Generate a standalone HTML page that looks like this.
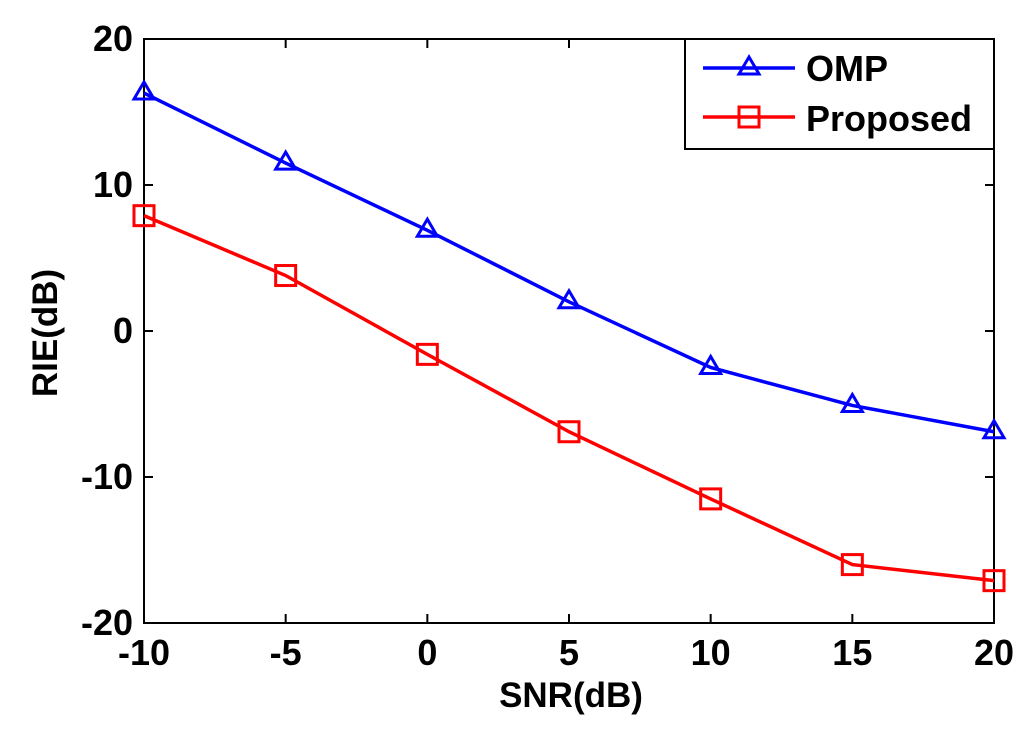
<!DOCTYPE html>
<html><head><meta charset="utf-8"><style>
body{margin:0;background:#fff;}
svg text{font-family:"Liberation Sans",Arial,sans-serif;font-weight:bold;}
</style></head><body>
<svg width="1024" height="726" viewBox="0 0 1024 726">
<rect x="144" y="39" width="850" height="584" fill="#fff" stroke="#000" stroke-width="2"/>
<g id="ticks"></g>
<g id="series"></g>
<text x="571" y="707" font-size="35" text-anchor="middle">SNR(dB)</text>
<text transform="translate(57,333) rotate(-90)" font-size="35" text-anchor="middle">RIE(dB)</text>
<g>
<rect x="685" y="39" width="309" height="110" fill="#fff" stroke="#000" stroke-width="2"/>
<g>
<line x1="703" y1="68" x2="795" y2="68" stroke="#0000ff" stroke-width="3.5"/>
<polygon points="749,57 739,74 759,74" fill="none" stroke="#0000ff" stroke-width="3"/>
<text x="806" y="81" font-size="36">OMP</text></g>
<g>
<line x1="703" y1="117" x2="795" y2="117" stroke="#ff0000" stroke-width="3.5"/>
<rect x="739" y="107" width="20" height="20" fill="none" stroke="#ff0000" stroke-width="3"/>
<text x="806" y="131" font-size="36">Proposed</text></g>
</g>
</svg>
<script>
const snr=[-10,-5,0,5,10,15,20];
const ompValues=[16.3,11.5,6.9,2.0,-2.5,-5.1,-6.9];
const proposedValues=[7.9,3.8,-1.6,-6.9,-11.5,-16.0,-17.1];
const xTicks=[-10,-5,0,5,10,15,20];
const yTicks=[-20,-10,0,10,20];
const NS='http://www.w3.org/2000/svg';
const X=v=>144+(v+10)/30*850;
const Y=v=>623-(v+20)/40*584;
function mk(t,a,p){const e=document.createElementNS(NS,t);for(const k in a)e.setAttribute(k,a[k]);p.appendChild(e);return e;}
const tg=document.getElementById('ticks');
xTicks.forEach(v=>{
 mk('line',{x1:X(v),x2:X(v),y1:623,y2:614,stroke:'#000','stroke-width':2},tg);
 mk('line',{x1:X(v),x2:X(v),y1:39,y2:48,stroke:'#000','stroke-width':2},tg);
 const t=mk('text',{x:X(v),y:665,'font-size':36,'text-anchor':'middle'},tg);t.textContent=v;
 
 
});
yTicks.forEach(v=>{
 mk('line',{x1:144,x2:153,y1:Y(v),y2:Y(v),stroke:'#000','stroke-width':2},tg);
 mk('line',{x1:994,x2:985,y1:Y(v),y2:Y(v),stroke:'#000','stroke-width':2},tg);
 const t=mk('text',{x:133,y:Y(v)+12,'font-size':36,'text-anchor':'end'},tg);t.textContent=v;
 
 
});
const sg=document.getElementById('series');
function series(vals,color,name,marker){
 const g=mk('g',{},sg);
 
 
 mk('polyline',{points:vals.map((v,i)=>X(snr[i])+','+Y(v)).join(' '),fill:'none',stroke:color,'stroke-width':3.5},g);
 vals.forEach((v,i)=>{
  const x=X(snr[i]),y=Y(v);let m;
  if(marker==='tri')m=mk('polygon',{points:`${x},${y-11} ${x-10},${y+6} ${x+10},${y+6}`,fill:'none',stroke:color,'stroke-width':3},g);
  else m=mk('rect',{x:x-10,y:y-10,width:20,height:20,fill:'none',stroke:color,'stroke-width':3},g);
  
  
 });
}
series(ompValues,'#0000ff','omp-series','tri');
series(proposedValues,'#ff0000','proposed-series','sq');
</script>
</body></html>
